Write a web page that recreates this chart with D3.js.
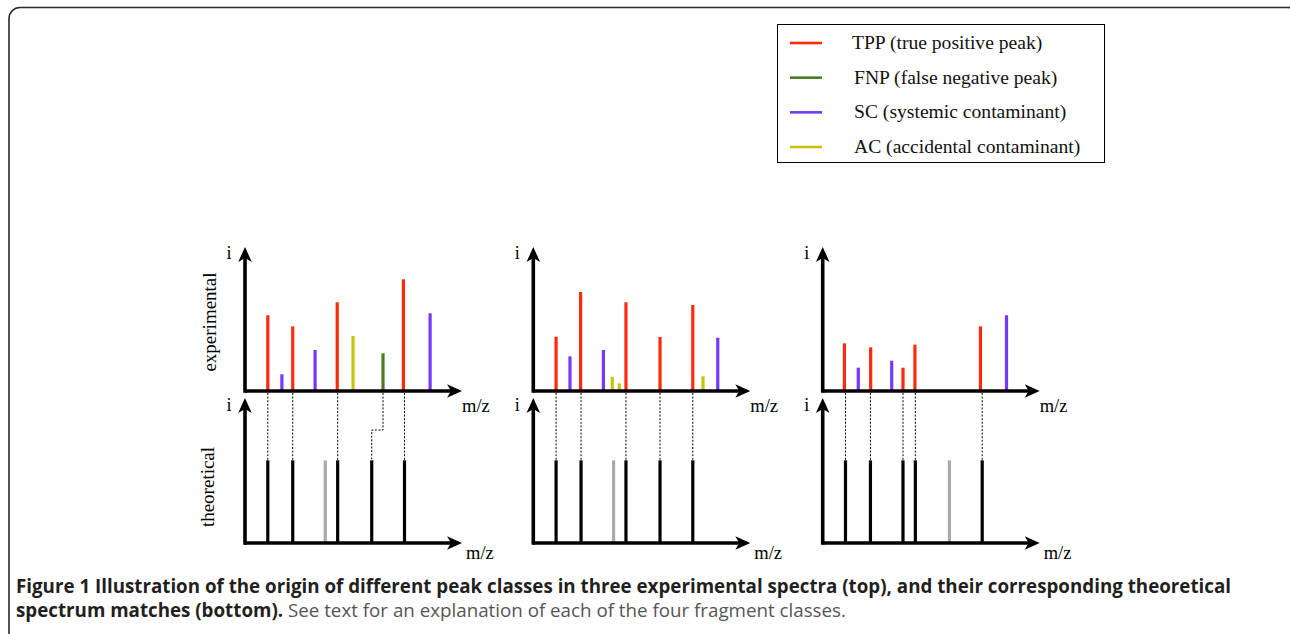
<!DOCTYPE html>
<html><head><meta charset="utf-8">
<script src="https://cdn.jsdelivr.net/npm/d3@7"></script>
<style>
html,body{margin:0;padding:0;background:#fff;}
svg{display:block;}
</style></head>
<body>
<svg id="chart" width="1290" height="634"></svg>
<script>
// ---------- data ----------
const classes = ["TPP", "FNP", "SC", "AC"];
const classLabels = ["TPP (true positive peak)", "FNP (false negative peak)", "SC (systemic contaminant)", "AC (accidental contaminant)"];
const classColors = ["#ff2a0a", "#4c7a22", "#7438ff", "#c6c40e"];

// experimental spectra (m/z 0-100, intensity 0-100)
const expMz1 = [10.5, 17, 22, 32.3, 42.5, 49.8, 63.6, 73, 85.3];
const expInt1 = [52.6, 11.6, 44.9, 28.5, 61.6, 38.2, 26.2, 77.6, 54];
const expCls1 = ["TPP", "SC", "TPP", "SC", "TPP", "AC", "FNP", "TPP", "SC"];

const expMz2 = [10.5, 16.9, 21.8, 32.3, 36.4, 39.6, 42.7, 58.4, 73.5, 78.2, 85];
const expInt2 = [37.7, 24.1, 68.8, 28.5, 9.9, 5.3, 61.6, 37.5, 59.7, 10.2, 37];
const expCls2 = ["TPP", "SC", "TPP", "SC", "AC", "AC", "TPP", "TPP", "TPP", "AC", "SC"];

const expMz3 = [10, 16.4, 22.1, 31.8, 37, 42.5, 72.7, 84.7];
const expInt3 = [33.1, 16.2, 30.3, 21, 16.2, 32.2, 44.9, 52.6];
const expCls3 = ["TPP", "SC", "TPP", "SC", "TPP", "TPP", "TPP", "SC"];

// theoretical spectrum (same in all three panels)
const theoMz = [10.5, 22, 37, 42.7, 58.4, 73.5];
const theoInt = [57, 57, 57, 57, 57, 57];
const theoMatched1 = [true, true, false, true, true, true];
const theoMatched2 = [true, true, false, true, true, true];
const theoMatched3 = [true, true, true, true, false, true];

const axisLabelX = "m/z";
const axisLabelY = "i";
const rowLabels = ["experimental", "theoretical"];
const captionBold1 = "Figure 1 Illustration of the origin of different peak classes in three experimental spectra (top), and their corresponding theoretical";
const captionBold2 = "spectrum matches (bottom).";
const captionRest = " See text for an explanation of each of the four fragment classes.";

// ---------- layout ----------
const panelX0 = [245, 533.3, 822.7];
const axisLen = 217;
const expBase = 391, expTop = 247;
const theoBase = 543, theoTop = 398;

const svg = d3.select("#chart");
const serif = "'Liberation Serif','Times New Roman',serif";
const color = d3.scaleOrdinal().domain(classes).range(classColors);

// frame
svg.append("rect").attr("x", 9).attr("y", 7.5).attr("width", 1290).attr("height", 650)
  .attr("rx", 11).attr("fill", "none").attr("stroke", "#2a2a2a").attr("stroke-width", 1.6);

function arrowHead(g, tx, ty, angle) {
  g.append("path")
    .attr("d", "M0,0 L-15,-6.8 L-11,0 L-15,6.8 Z")
    .attr("transform", `translate(${tx},${ty}) rotate(${angle})`)
    .attr("fill", "#000");
}

function drawAxes(g, x, y) {
  const bx = x.range()[0], tx = x.range()[1];
  const by = y.range()[0], ty = y.range()[1];
  g.append("line").attr("x1", bx).attr("x2", tx - 8).attr("y1", by).attr("y2", by)
    .attr("stroke", "#000").attr("stroke-width", 3.6);
  g.append("line").attr("x1", bx).attr("x2", bx).attr("y1", by + 1.8).attr("y2", ty + 8)
    .attr("stroke", "#000").attr("stroke-width", 3.6);
  arrowHead(g, tx, by, 0);
  arrowHead(g, bx, ty, -90);
}

const panelsExp = [
  {mz: expMz1, it: expInt1, cls: expCls1, matched: theoMatched1},
  {mz: expMz2, it: expInt2, cls: expCls2, matched: theoMatched2},
  {mz: expMz3, it: expInt3, cls: expCls3, matched: theoMatched3}
];

panelsExp.forEach((p, pi) => {
  const x0 = panelX0[pi];
  const x = d3.scaleLinear().domain([0, 100]).range([x0, x0 + axisLen]);
  const yE = d3.scaleLinear().domain([0, 100]).range([expBase, expTop]);
  const yT = d3.scaleLinear().domain([0, 100]).range([theoBase, theoTop]);
  const g = svg.append("g");

  const expData = p.mz.map((m, i) => ({mz: m, it: p.it[i], cls: p.cls[i]}));
  const theoData = theoMz.map((m, i) => ({mz: m, it: theoInt[i], matched: p.matched[i]}));

  // dashed links
  const linkG = g.append("g");
  theoData.filter(d => d.matched).forEach(t => {
    const cands = expData.filter(e => e.cls === "TPP" || e.cls === "FNP");
    const e = cands.reduce((a, b) => Math.abs(b.mz - t.mz) < Math.abs(a.mz - t.mz) ? b : a);
    let path;
    const ys = expBase + 2, ye = yT(t.it);
    if (Math.abs(e.mz - t.mz) < 2) {
      path = `M${x(t.mz)},${ys} V${ye}`;
    } else {
      const mid = ys + (ye - ys) * 0.55;
      path = `M${x(e.mz)},${ys} V${mid} H${x(t.mz)} V${ye}`;
    }
    linkG.append("path").attr("d", path).attr("fill", "none")
      .attr("stroke", "#000").attr("stroke-width", 1).attr("stroke-dasharray", "2,1.6");
  });

  // experimental peaks
  g.selectAll(".ep").data(expData).join("line")
    .attr("x1", d => x(d.mz)).attr("x2", d => x(d.mz))
    .attr("y1", yE(0)).attr("y2", d => yE(d.it))
    .attr("stroke", d => color(d.cls)).attr("stroke-width", 3.2);

  // theoretical peaks
  g.selectAll(".tp").data(theoData).join("line")
    .attr("x1", d => x(d.mz)).attr("x2", d => x(d.mz))
    .attr("y1", yT(0)).attr("y2", d => yT(d.it))
    .attr("stroke", d => d.matched ? "#000" : "#aaaaaa").attr("stroke-width", 3.2);

  drawAxes(g, x, yE);
  drawAxes(g, x, yT);

  // labels
  g.append("text").attr("x", x0 - 16).attr("y", 259).attr("text-anchor", "middle")
    .attr("font-family", serif).attr("font-size", 18).text(axisLabelY);
  g.append("text").attr("x", x0 - 16).attr("y", 411).attr("text-anchor", "middle")
    .attr("font-family", serif).attr("font-size", 18).text(axisLabelY);
  g.append("text").attr("x", x0 + axisLen).attr("y", 412)
    .attr("font-family", serif).attr("font-size", 18.5).text(axisLabelX);
  g.append("text").attr("x", x0 + axisLen + 4).attr("y", 559)
    .attr("font-family", serif).attr("font-size", 18.5).text(axisLabelX);
});

// row labels (left of first panel)
svg.append("text").attr("transform", "translate(216,322) rotate(-90)")
  .attr("text-anchor", "middle").attr("font-family", serif).attr("font-size", 19).text(rowLabels[0]);
svg.append("text").attr("transform", "translate(214,487) rotate(-90)")
  .attr("text-anchor", "middle").attr("font-family", serif).attr("font-size", 19).text(rowLabels[1]);

// legend
const lg = svg.append("g");
lg.append("rect").attr("x", 777.5).attr("y", 24.5).attr("width", 327).attr("height", 138)
  .attr("fill", "#fff").attr("stroke", "#000").attr("stroke-width", 1);
const legY = d3.scalePoint().domain(classes).range([43, 147]);
classes.forEach((c, i) => {
  lg.append("line").attr("x1", 790).attr("x2", 822).attr("y1", legY(c)).attr("y2", legY(c))
    .attr("stroke", classColors[i]).attr("stroke-width", 2.6);
  lg.append("text").attr("x", i === 0 ? 852 : 854).attr("y", legY(c) + 6)
    .attr("font-family", serif).attr("font-size", 19.6).attr("fill", "#111").text(classLabels[i]);
});

// caption
const sans = "'Open Sans','Noto Sans',sans-serif";
const c1 = svg.append("text").attr("x", 16).attr("y", 593)
  .attr("font-family", sans).attr("font-weight", "bold").attr("font-size", 16).attr("fill", "#231f20")
  .text(captionBold1);
const w1 = c1.node().getComputedTextLength();
const fs = 16 * 1216 / w1;
c1.attr("font-size", fs);
const c2 = svg.append("text").attr("x", 16).attr("y", 617)
  .attr("font-family", sans).attr("font-size", fs).attr("fill", "#231f20");
c2.append("tspan").attr("font-weight", "bold").text(captionBold2);
c2.append("tspan").attr("fill", "#555").text(captionRest);
</script>
</body></html>
